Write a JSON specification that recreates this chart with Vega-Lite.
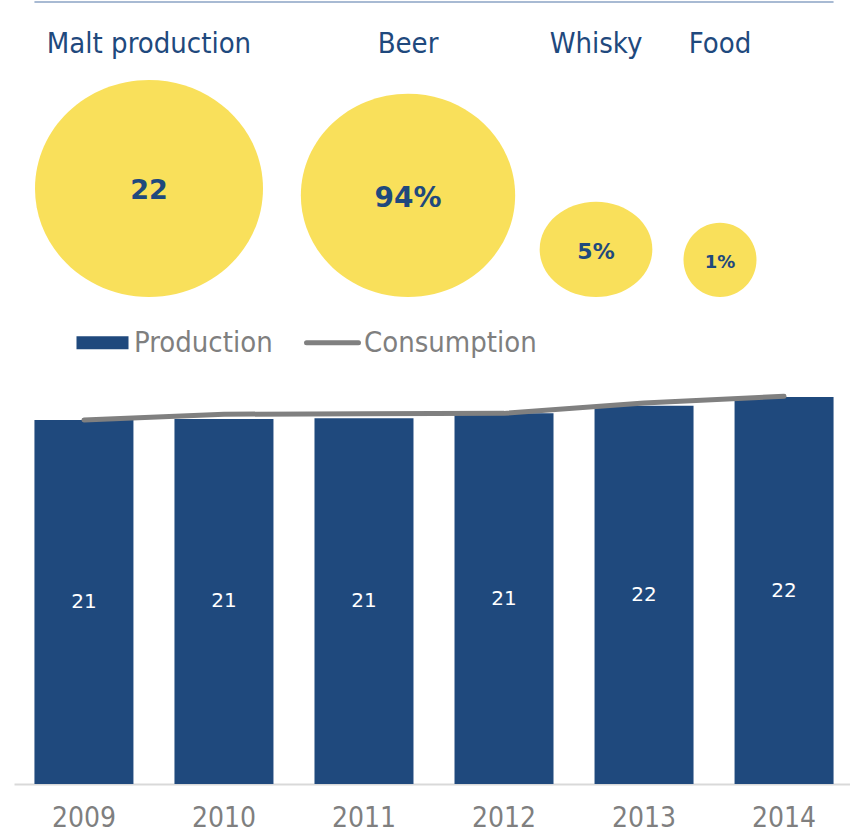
{
  "$schema": "https://vega.github.io/schema/vega-lite/v6.json",
  "background": "white",
  "padding": {"left": 14, "top": 0, "right": 0, "bottom": 0},
  "datasets": {
    "circles": [
      {"name": "Malt production", "value": "22", "share": 100},
      {"name": "Beer", "value": "94%", "share": 94},
      {"name": "Whisky", "value": "5%", "share": 5},
      {"name": "Food", "value": "1%", "share": 1}
    ],
    "bars": [
      {"year": "2009", "production": 20.9, "consumption": 20.9},
      {"year": "2010", "production": 20.96, "consumption": 21.23},
      {"year": "2011", "production": 21.0, "consumption": 21.26},
      {"year": "2012", "production": 21.28, "consumption": 21.28},
      {"year": "2013", "production": 21.72, "consumption": 21.88},
      {"year": "2014", "production": 22.22, "consumption": 22.26}
    ]
  },
  "spacing": 365,
  "bounds": "flush",
  "vconcat": [
    {
      "spacing": 0,
      "bounds": "flush",
      "hconcat": [
        {
          "width": 270, "height": 365,
          "data": {"name": "circles"},
          "transform": [{"filter": {"field": "name", "equal": "Malt production"}}],
          "layer": [
            {"mark": {"type": "point", "filled": true, "opacity": 1, "color": "#f9e05b", "strokeWidth": 0},
             "encoding": {
               "y": {"datum": 0.189, "type": "quantitative", "scale": {"domain": [0, 1]}, "axis": null},
               "size": {"field": "name", "type": "nominal", "scale": {"type": "ordinal", "domain": ["Malt production", "Beer", "Whisky", "Food"], "range": [51984, 45924, 12701, 5329]}, "legend": null},
               "shape": {"field": "name", "type": "nominal", "scale": {"domain": ["Malt production", "Beer", "Whisky", "Food"], "range": ["M -1 -0.952 A 1 0.952 0 1 0 1 -0.952 A 1 0.952 0 1 0 -1 -0.952 Z", "M -1 -0.949 A 1 0.949 0 1 0 1 -0.949 A 1 0.949 0 1 0 -1 -0.949 Z", "M -1 -0.846 A 1 0.846 0 1 0 1 -0.846 A 1 0.846 0 1 0 -1 -0.846 Z", "M -1 -1.018 A 1 1.018 0 1 0 1 -1.018 A 1 1.018 0 1 0 -1 -1.018 Z"]}, "legend": null}
             }},
            {"mark": {"type": "text", "font": "DejaVu Sans", "fontWeight": "bold", "fontSize": 27, "color": "#1f497d", "baseline": "alphabetic"},
             "encoding": {"y": {"datum": 0.4575, "type": "quantitative"}, "text": {"field": "value"}}},
            {"mark": {"type": "text", "font": "DejaVu Sans Condensed, Liberation Sans Narrow, Liberation Sans", "fontSize": 29, "color": "#1f497d", "baseline": "alphabetic"},
             "encoding": {"y": {"datum": 0.8575, "type": "quantitative"}, "text": {"field": "name"}}}
          ]
        },
        {
          "width": 248, "height": 365,
          "data": {"name": "circles"},
          "transform": [{"filter": {"field": "name", "equal": "Beer"}}],
          "layer": [
            {"mark": {"type": "point", "filled": true, "opacity": 1, "color": "#f9e05b", "strokeWidth": 0},
             "encoding": {
               "y": {"datum": 0.189, "type": "quantitative", "scale": {"domain": [0, 1]}, "axis": null},
               "size": {"field": "name", "type": "nominal", "scale": {"type": "ordinal", "domain": ["Malt production", "Beer", "Whisky", "Food"], "range": [51984, 45924, 12701, 5329]}, "legend": null},
               "shape": {"field": "name", "type": "nominal", "scale": {"domain": ["Malt production", "Beer", "Whisky", "Food"], "range": ["M -1 -0.952 A 1 0.952 0 1 0 1 -0.952 A 1 0.952 0 1 0 -1 -0.952 Z", "M -1 -0.949 A 1 0.949 0 1 0 1 -0.949 A 1 0.949 0 1 0 -1 -0.949 Z", "M -1 -0.846 A 1 0.846 0 1 0 1 -0.846 A 1 0.846 0 1 0 -1 -0.846 Z", "M -1 -1.018 A 1 1.018 0 1 0 1 -1.018 A 1 1.018 0 1 0 -1 -1.018 Z"]}, "legend": null}
             }},
            {"mark": {"type": "text", "font": "DejaVu Sans", "fontWeight": "bold", "fontSize": 28, "color": "#1f497d", "baseline": "alphabetic"},
             "encoding": {"y": {"datum": 0.4364, "type": "quantitative"}, "text": {"field": "value"}}},
            {"mark": {"type": "text", "font": "DejaVu Sans Condensed, Liberation Sans Narrow, Liberation Sans", "fontSize": 29, "color": "#1f497d", "baseline": "alphabetic"},
             "encoding": {"y": {"datum": 0.8575, "type": "quantitative"}, "text": {"field": "name"}}}
          ]
        },
        {
          "width": 128, "height": 365,
          "data": {"name": "circles"},
          "transform": [{"filter": {"field": "name", "equal": "Whisky"}}],
          "layer": [
            {"mark": {"type": "point", "filled": true, "opacity": 1, "color": "#f9e05b", "strokeWidth": 0},
             "encoding": {
               "y": {"datum": 0.189, "type": "quantitative", "scale": {"domain": [0, 1]}, "axis": null},
               "size": {"field": "name", "type": "nominal", "scale": {"type": "ordinal", "domain": ["Malt production", "Beer", "Whisky", "Food"], "range": [51984, 45924, 12701, 5329]}, "legend": null},
               "shape": {"field": "name", "type": "nominal", "scale": {"domain": ["Malt production", "Beer", "Whisky", "Food"], "range": ["M -1 -0.952 A 1 0.952 0 1 0 1 -0.952 A 1 0.952 0 1 0 -1 -0.952 Z", "M -1 -0.949 A 1 0.949 0 1 0 1 -0.949 A 1 0.949 0 1 0 -1 -0.949 Z", "M -1 -0.846 A 1 0.846 0 1 0 1 -0.846 A 1 0.846 0 1 0 -1 -0.846 Z", "M -1 -1.018 A 1 1.018 0 1 0 1 -1.018 A 1 1.018 0 1 0 -1 -1.018 Z"]}, "legend": null}
             }},
            {"mark": {"type": "text", "font": "DejaVu Sans", "fontWeight": "bold", "fontSize": 22, "color": "#1f497d", "baseline": "alphabetic"},
             "encoding": {"y": {"datum": 0.294, "type": "quantitative"}, "text": {"field": "value"}}},
            {"mark": {"type": "text", "font": "DejaVu Sans Condensed, Liberation Sans Narrow, Liberation Sans", "fontSize": 29, "color": "#1f497d", "baseline": "alphabetic"},
             "encoding": {"y": {"datum": 0.8575, "type": "quantitative"}, "text": {"field": "name"}}}
          ]
        },
        {
          "width": 120, "height": 365,
          "data": {"name": "circles"},
          "transform": [{"filter": {"field": "name", "equal": "Food"}}],
          "layer": [
            {"mark": {"type": "point", "filled": true, "opacity": 1, "color": "#f9e05b", "strokeWidth": 0},
             "encoding": {
               "y": {"datum": 0.189, "type": "quantitative", "scale": {"domain": [0, 1]}, "axis": null},
               "size": {"field": "name", "type": "nominal", "scale": {"type": "ordinal", "domain": ["Malt production", "Beer", "Whisky", "Food"], "range": [51984, 45924, 12701, 5329]}, "legend": null},
               "shape": {"field": "name", "type": "nominal", "scale": {"domain": ["Malt production", "Beer", "Whisky", "Food"], "range": ["M -1 -0.952 A 1 0.952 0 1 0 1 -0.952 A 1 0.952 0 1 0 -1 -0.952 Z", "M -1 -0.949 A 1 0.949 0 1 0 1 -0.949 A 1 0.949 0 1 0 -1 -0.949 Z", "M -1 -0.846 A 1 0.846 0 1 0 1 -0.846 A 1 0.846 0 1 0 -1 -0.846 Z", "M -1 -1.018 A 1 1.018 0 1 0 1 -1.018 A 1 1.018 0 1 0 -1 -1.018 Z"]}, "legend": null}
             }},
            {"mark": {"type": "text", "font": "DejaVu Sans", "fontWeight": "bold", "fontSize": 18, "color": "#1f497d", "baseline": "alphabetic"},
             "encoding": {"y": {"datum": 0.2685, "type": "quantitative"}, "text": {"field": "value"}}},
            {"mark": {"type": "text", "font": "DejaVu Sans Condensed, Liberation Sans Narrow, Liberation Sans", "fontSize": 29, "color": "#1f497d", "baseline": "alphabetic"},
             "encoding": {"y": {"datum": 0.8575, "type": "quantitative"}, "text": {"field": "name"}}}
          ]
        }
      ]
    },
    {
      "width": 840, "height": 418,
      "data": {"name": "bars"},
      "encoding": {
        "x": {"field": "year", "type": "ordinal", "scale": {"paddingInner": 0.293, "paddingOuter": 0.146},
              "axis": {"title": null, "labelAngle": 0, "ticks": false, "grid": false, "domainColor": "#d9d9d9", "domainWidth": 2,
                       "labelFont": "DejaVu Sans Condensed, Liberation Sans Narrow, Liberation Sans", "labelFontSize": 28, "labelColor": "#7f7f7f", "labelPadding": 20}}
      },
      "layer": [
        {"mark": {"type": "bar", "color": "#1f497d"},
         "encoding": {
           "y": {"field": "production", "type": "quantitative", "scale": {"domain": [0, 24]}, "axis": null},
           "color": {"datum": "Production", "type": "nominal",
                     "scale": {"domain": ["Production", "Consumption"], "range": ["#1f497d", "#808080"]},
                     "legend": {"orient": "none", "direction": "horizontal", "legendX": 74, "legendY": 327, "title": null, "padding": 0,
                                "labelFont": "DejaVu Sans Condensed, Liberation Sans Narrow, Liberation Sans", "labelFontSize": 29, "labelColor": "#7f7f7f", "labelLimit": 400,
                                "symbolSize": 2704, "labelOffset": 17, "columnPadding": 23, "symbolOpacity": 1,
                                "encode": {"symbols": {"update": {
                                  "shape": {"signal": "datum.value === 'Production' ? 'M -1 -0.25 L 1 -0.25 L 1 0.25 L -1 0.25 Z' : 'M -1 0 L 1 0'"},
                                  "fill": {"signal": "datum.value === 'Production' ? '#1f497d' : 'transparent'"},
                                  "stroke": {"signal": "datum.value === 'Production' ? 'transparent' : '#808080'"},
                                  "strokeWidth": {"signal": "datum.value === 'Production' ? 0 : 5"},
                                  "strokeCap": {"value": "round"},
                                  "opacity": {"value": 1}
                                }}}}}
         }},
        {"mark": {"type": "line", "strokeWidth": 5, "strokeCap": "round"},
         "encoding": {
           "y": {"field": "consumption", "type": "quantitative"},
           "color": {"datum": "Consumption", "type": "nominal"}
         }},
        {"transform": [{"calculate": "datum.production / 2", "as": "mid"}],
         "mark": {"type": "text", "color": "white", "font": "DejaVu Sans", "fontSize": 20, "baseline": "middle"},
         "encoding": {
           "y": {"field": "mid", "type": "quantitative"},
           "text": {"field": "production", "type": "quantitative", "format": ".0f"}
         }},
        {"data": {"values": [{}]},
         "mark": {"type": "rule", "color": "#a8bad3", "strokeWidth": 2},
         "encoding": {
           "x": {"datum": "2009", "type": "ordinal", "bandPosition": 0},
           "x2": {"datum": "2014", "bandPosition": 1},
           "y": {"datum": 44.9, "type": "quantitative"}
         }}
      ]
    }
  ],
  "config": {"view": {"stroke": null}}
}
